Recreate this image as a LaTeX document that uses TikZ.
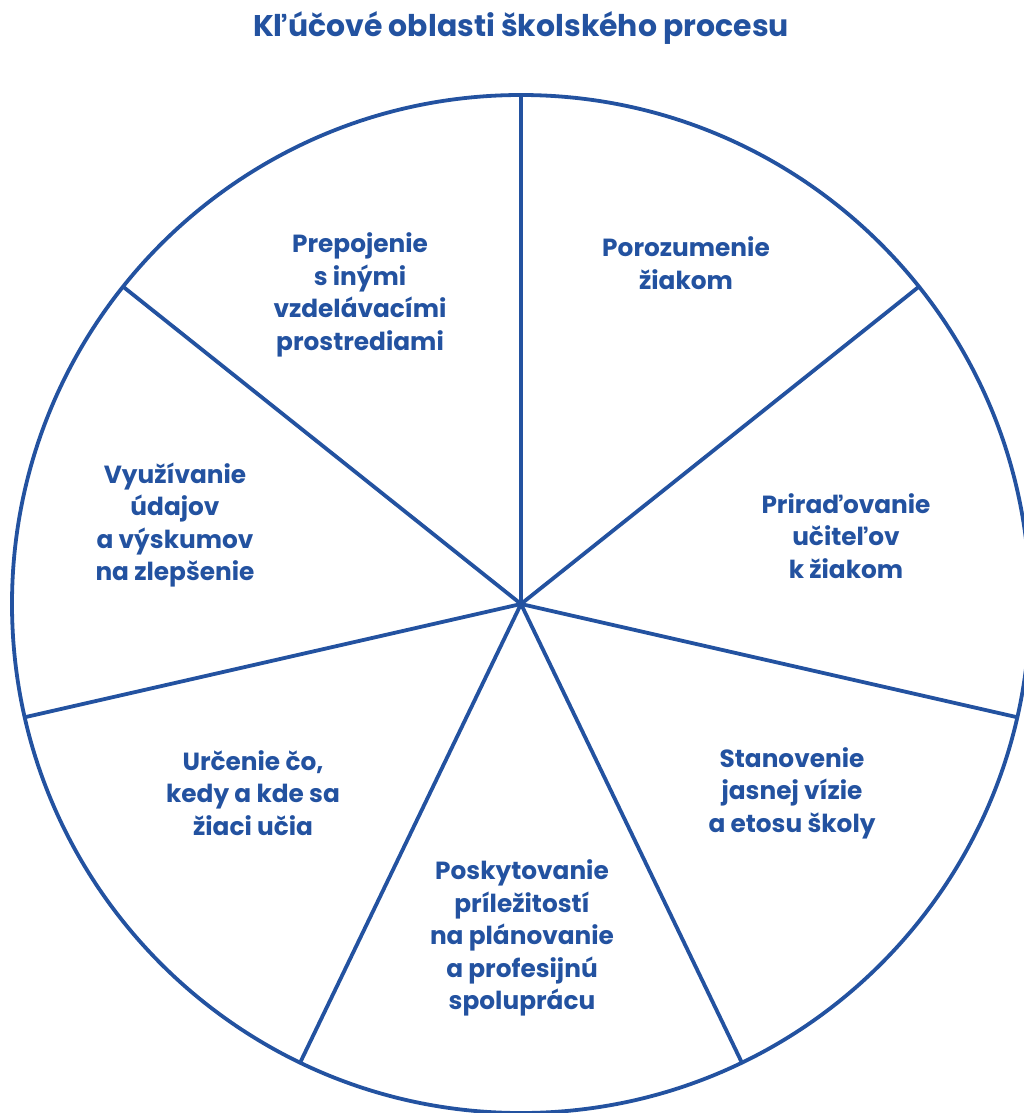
\documentclass[tikz,border=0pt]{standalone}
\usepackage{fontspec}
\newfontfamily\popfont{Poppins}
\definecolor{wheelblue}{HTML}{2352A0}
\begin{document}
\begin{tikzpicture}[x=1pt,y=1pt,
  spoke/.style={draw=wheelblue,line width=3.8pt},
  rim/.style={draw=wheelblue,line width=3.8pt},
  lbl/.style={text=wheelblue,align=center,font=\popfont\bfseries\fontsize{24.8}{32.5}\selectfont,inner sep=0pt},
  ttl/.style={text=wheelblue,font=\popfont\bfseries\fontsize{29.9}{34}\selectfont,inner sep=0pt}]
\useasboundingbox (0,0) rectangle (1024,-1113);
\clip (0,0) rectangle (1024,-1113);
\coordinate (c) at (521,-604);
\path[rim] (c) circle (509);
\foreach \i/\a in {1/90,2/38.571,3/-12.857,4/-64.286,5/-115.714,6/-167.143,7/141.429}{
  \path (c) ++(\a:509) coordinate (p\i);
  \draw[spoke] (c) -- (p\i);
}
\node[ttl] (title) at (521,-28) {Kľúčové oblasti školského procesu};
\node[lbl] (s1) at (686,-263) {Porozumenie\\žiakom};
\node[lbl] (s2) at (846,-536) {Priraďovanie\\učiteľov\\k žiakom};
\node[lbl] (s3) at (792,-793) {Stanovenie\\jasnej vízie\\a etosu školy};
\node[lbl] (s4) at (522,-938) {Poskytovanie\\príležitostí\\na plánovanie\\a profesijnú\\spoluprácu};
\node[lbl] (s5) at (253,-793) {Určenie čo,\\kedy a kde sa\\žiaci učia};
\node[lbl] (s6) at (175,-525) {Využívanie\\údajov\\a výskumov\\na zlepšenie};
\node[lbl] (s7) at (360,-295) {Prepojenie\\s inými\\vzdelávacími\\prostrediami};
\end{tikzpicture}
\end{document}
